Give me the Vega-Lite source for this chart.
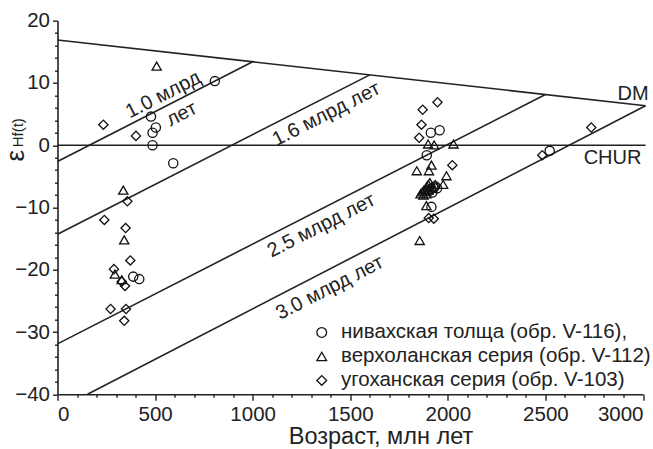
{
  "$schema": "https://vega.github.io/schema/vega-lite/v6.json",
  "width": 585.5,
  "height": 373.6,
  "autosize": {"type": "none"},
  "padding": {"left": 57.5, "top": 20.7, "right": 10, "bottom": 54.7},
  "background": "white",
  "config": {
    "view": {"stroke": null},
    "font": "Liberation Sans",
    "axis": {"domainColor": "#222", "domainWidth": 1.6, "tickColor": "#222", "tickWidth": 1.4, "grid": false, "labelColor": "#222", "titleColor": "#222", "labelFont": "Liberation Sans", "titleFont": "Liberation Sans", "labelFontWeight": "normal", "titleFontWeight": "normal"}
  },
  "datasets": {
    "lines": [
      {"line": "DM", "t": 0, "eps": 16.9}, {"line": "DM", "t": 3013, "eps": 6.35},
      {"line": "CHUR", "t": 0, "eps": 0}, {"line": "CHUR", "t": 3013, "eps": 0},
      {"line": "1.0", "t": 0, "eps": -2.6}, {"line": "1.0", "t": 1000, "eps": 13.4},
      {"line": "1.6", "t": 0, "eps": -14.3}, {"line": "1.6", "t": 1600, "eps": 11.3},
      {"line": "2.5", "t": 0, "eps": -31.9}, {"line": "2.5", "t": 2500, "eps": 8.15},
      {"line": "3.0", "t": 154, "eps": -40}, {"line": "3.0", "t": 3013, "eps": 6.35}
    ],
    "points": [
      {"s": "нивахская толща (обр. V-116),", "t": 806, "eps": 10.3},
      {"s": "нивахская толща (обр. V-116),", "t": 479, "eps": 4.6},
      {"s": "нивахская толща (обр. V-116),", "t": 504, "eps": 2.85},
      {"s": "нивахская толща (обр. V-116),", "t": 487, "eps": 2.0},
      {"s": "нивахская толща (обр. V-116),", "t": 487, "eps": 0},
      {"s": "нивахская толща (обр. V-116),", "t": 593, "eps": -2.9},
      {"s": "нивахская толща (обр. V-116),", "t": 388, "eps": -21.1},
      {"s": "нивахская толща (обр. V-116),", "t": 419, "eps": -21.5},
      {"s": "нивахская толща (обр. V-116),", "t": 1913, "eps": 2.0},
      {"s": "нивахская толща (обр. V-116),", "t": 1958, "eps": 2.4},
      {"s": "нивахская толща (обр. V-116),", "t": 1892, "eps": -1.6},
      {"s": "нивахская толща (обр. V-116),", "t": 1905, "eps": -7.3},
      {"s": "нивахская толща (обр. V-116),", "t": 1915, "eps": -7.0},
      {"s": "нивахская толща (обр. V-116),", "t": 1925, "eps": -6.8},
      {"s": "нивахская толща (обр. V-116),", "t": 1935, "eps": -6.6},
      {"s": "нивахская толща (обр. V-116),", "t": 1945, "eps": -6.9},
      {"s": "нивахская толща (обр. V-116),", "t": 1920, "eps": -7.6},
      {"s": "нивахская толща (обр. V-116),", "t": 1916, "eps": -9.9},
      {"s": "нивахская толща (обр. V-116),", "t": 2522, "eps": -0.9},
      {"s": "верхоланская серия (обр. V-112)", "t": 508, "eps": 12.7},
      {"s": "верхоланская серия (обр. V-112)", "t": 337, "eps": -7.2},
      {"s": "верхоланская серия (обр. V-112)", "t": 342, "eps": -15.2},
      {"s": "верхоланская серия (обр. V-112)", "t": 294, "eps": -20.7},
      {"s": "верхоланская серия (обр. V-112)", "t": 329, "eps": -21.6},
      {"s": "верхоланская серия (обр. V-112)", "t": 1899, "eps": 0.2},
      {"s": "верхоланская серия (обр. V-112)", "t": 1930, "eps": 0.05},
      {"s": "верхоланская серия (обр. V-112)", "t": 2029, "eps": 0.2},
      {"s": "верхоланская серия (обр. V-112)", "t": 1841, "eps": -4.1},
      {"s": "верхоланская серия (обр. V-112)", "t": 1903, "eps": -4.1},
      {"s": "верхоланская серия (обр. V-112)", "t": 1916, "eps": -3.2},
      {"s": "верхоланская серия (обр. V-112)", "t": 1993, "eps": -4.9},
      {"s": "верхоланская серия (обр. V-112)", "t": 1976, "eps": -6.3},
      {"s": "верхоланская серия (обр. V-112)", "t": 1860, "eps": -7.8},
      {"s": "верхоланская серия (обр. V-112)", "t": 1870, "eps": -7.5},
      {"s": "верхоланская серия (обр. V-112)", "t": 1878, "eps": -7.2},
      {"s": "верхоланская серия (обр. V-112)", "t": 1885, "eps": -7.0},
      {"s": "верхоланская серия (обр. V-112)", "t": 1893, "eps": -6.6},
      {"s": "верхоланская серия (обр. V-112)", "t": 1900, "eps": -6.3},
      {"s": "верхоланская серия (обр. V-112)", "t": 1908, "eps": -6.0},
      {"s": "верхоланская серия (обр. V-112)", "t": 1875, "eps": -8.0},
      {"s": "верхоланская серия (обр. V-112)", "t": 1890, "eps": -7.8},
      {"s": "верхоланская серия (обр. V-112)", "t": 1920, "eps": -6.8},
      {"s": "верхоланская серия (обр. V-112)", "t": 1935, "eps": -6.3},
      {"s": "верхоланская серия (обр. V-112)", "t": 1900, "eps": -7.2},
      {"s": "верхоланская серия (обр. V-112)", "t": 1890, "eps": -9.7},
      {"s": "верхоланская серия (обр. V-112)", "t": 1856, "eps": -15.3},
      {"s": "угоханская серия (обр. V-103)", "t": 235, "eps": 3.3},
      {"s": "угоханская серия (обр. V-103)", "t": 402, "eps": 1.5},
      {"s": "угоханская серия (обр. V-103)", "t": 358, "eps": -9.0},
      {"s": "угоханская серия (обр. V-103)", "t": 240, "eps": -12.0},
      {"s": "угоханская серия (обр. V-103)", "t": 349, "eps": -13.3},
      {"s": "угоханская серия (обр. V-103)", "t": 373, "eps": -18.5},
      {"s": "угоханская серия (обр. V-103)", "t": 289, "eps": -19.9},
      {"s": "угоханская серия (обр. V-103)", "t": 329, "eps": -21.9},
      {"s": "угоханская серия (обр. V-103)", "t": 346, "eps": -22.6},
      {"s": "угоханская серия (обр. V-103)", "t": 272, "eps": -26.3},
      {"s": "угоханская серия (обр. V-103)", "t": 351, "eps": -26.3},
      {"s": "угоханская серия (обр. V-103)", "t": 342, "eps": -28.2},
      {"s": "угоханская серия (обр. V-103)", "t": 1947, "eps": 6.9},
      {"s": "угоханская серия (обр. V-103)", "t": 1871, "eps": 5.7},
      {"s": "угоханская серия (обр. V-103)", "t": 1865, "eps": 3.3},
      {"s": "угоханская серия (обр. V-103)", "t": 1853, "eps": 1.2},
      {"s": "угоханская серия (обр. V-103)", "t": 2023, "eps": -3.2},
      {"s": "угоханская серия (обр. V-103)", "t": 1902, "eps": -11.7},
      {"s": "угоханская серия (обр. V-103)", "t": 1928, "eps": -11.8},
      {"s": "угоханская серия (обр. V-103)", "t": 2735, "eps": 2.85},
      {"s": "угоханская серия (обр. V-103)", "t": 2484, "eps": -1.6}
    ],
    "labels": [
      {"label": "1.0 млрд", "t": 542, "eps": 8.1, "angle": 333},
      {"label": "лет", "t": 636, "eps": 5.0, "angle": 333},
      {"label": "1.6 млрд лет", "t": 1378, "eps": 5.0, "angle": 333},
      {"label": "2.5 млрд лет", "t": 1352, "eps": -12.9, "angle": 333},
      {"label": "3.0 млрд лет", "t": 1395, "eps": -22.9, "angle": 333},
      {"label": "DM", "t": 2949, "eps": 8.2, "angle": 0},
      {"label": "CHUR", "t": 2844, "eps": -2.0, "angle": 0}
    ],
    "ytitle": [
      {"label": "ε", "t": -212, "eps": -1.7, "size": 26},
      {"label": "Hf(t)", "t": -200, "eps": 2.0, "size": 15}
    ]
  },
  "resolve": {"axis": {"x": "independent", "y": "independent"}},
  "layer": [
    {
      "data": {"name": "lines"},
      "mark": {"type": "line", "color": "#222", "strokeWidth": 1.6},
      "encoding": {
        "x": {"field": "t", "type": "quantitative", "scale": {"domain": [0, 3000], "nice": false, "zero": false},
              "axis": {"orient": "bottom", "values": [0, 500, 1000, 1500, 2000, 2500, 3000], "format": "d", "tickSize": 6, "labelPadding": 4, "labelFontSize": 20.5, "title": "Возраст, млн лет", "titleFontSize": 23.5, "titleX": 323, "titleY": 30, "titleBaseline": "top", "titleAlign": "center"}},
        "y": {"field": "eps", "type": "quantitative", "scale": {"domain": [-40, 20], "nice": false, "zero": false},
              "axis": {"orient": "left", "values": [-40, -30, -20, -10, 0, 10, 20], "format": "d", "tickSize": 5, "labelPadding": 3, "labelFontSize": 20.5, "title": null}},
        "detail": {"field": "line", "type": "nominal"}
      }
    },
    {
      "data": {"name": "points"},
      "mark": {"type": "point", "filled": false, "color": "#111", "strokeWidth": 1.3, "size": 85, "opacity": 1},
      "encoding": {
        "x": {"field": "t", "type": "quantitative",
              "axis": {"orient": "bottom", "values": [100, 200, 300, 400, 600, 700, 800, 900, 1100, 1200, 1300, 1400, 1600, 1700, 1800, 1900, 2100, 2200, 2300, 2400, 2600, 2700, 2800, 2900], "tickSize": 3, "labels": false, "domain": false, "title": null}},
        "y": {"field": "eps", "type": "quantitative",
              "axis": {"orient": "left", "values": [-38, -36, -34, -32, -28, -26, -24, -22, -18, -16, -14, -12, -8, -6, -4, -2, 2, 4, 6, 8, 12, 14, 16, 18], "tickSize": 3, "labels": false, "domain": false, "title": null}},
        "shape": {"field": "s", "type": "nominal",
                  "scale": {"domain": ["нивахская толща (обр. V-116),", "верхоланская серия (обр. V-112)", "угоханская серия (обр. V-103)"], "range": ["circle", "triangle-up", "diamond"]},
                  "legend": {"orient": "none", "legendX": 254, "legendY": 301.5, "title": null, "labelFontSize": 20.5, "labelLimit": 400, "labelOffset": 9, "symbolSize": 95, "symbolStrokeWidth": 1.3, "symbolStrokeColor": "#111", "symbolFillColor": "transparent", "rowPadding": 3, "padding": 0, "labelColor": "#222", "labelFont": "Liberation Sans"}}
      }
    },
    {
      "data": {"name": "labels"},
      "mark": {"type": "text", "fontSize": 20, "align": "center", "baseline": "middle", "color": "#222"},
      "encoding": {
        "x": {"field": "t", "type": "quantitative", "axis": null},
        "y": {"field": "eps", "type": "quantitative", "axis": null},
        "text": {"field": "label"},
        "angle": {"field": "angle", "type": "quantitative", "scale": null}
      }
    },
    {
      "data": {"name": "ytitle"},
      "mark": {"type": "text", "align": "center", "baseline": "middle", "angle": 270, "color": "#222"},
      "encoding": {
        "x": {"field": "t", "type": "quantitative", "axis": null},
        "y": {"field": "eps", "type": "quantitative", "axis": null},
        "text": {"field": "label"},
        "size": {"field": "size", "type": "quantitative", "scale": null, "legend": null}
      }
    }
  ]
}
